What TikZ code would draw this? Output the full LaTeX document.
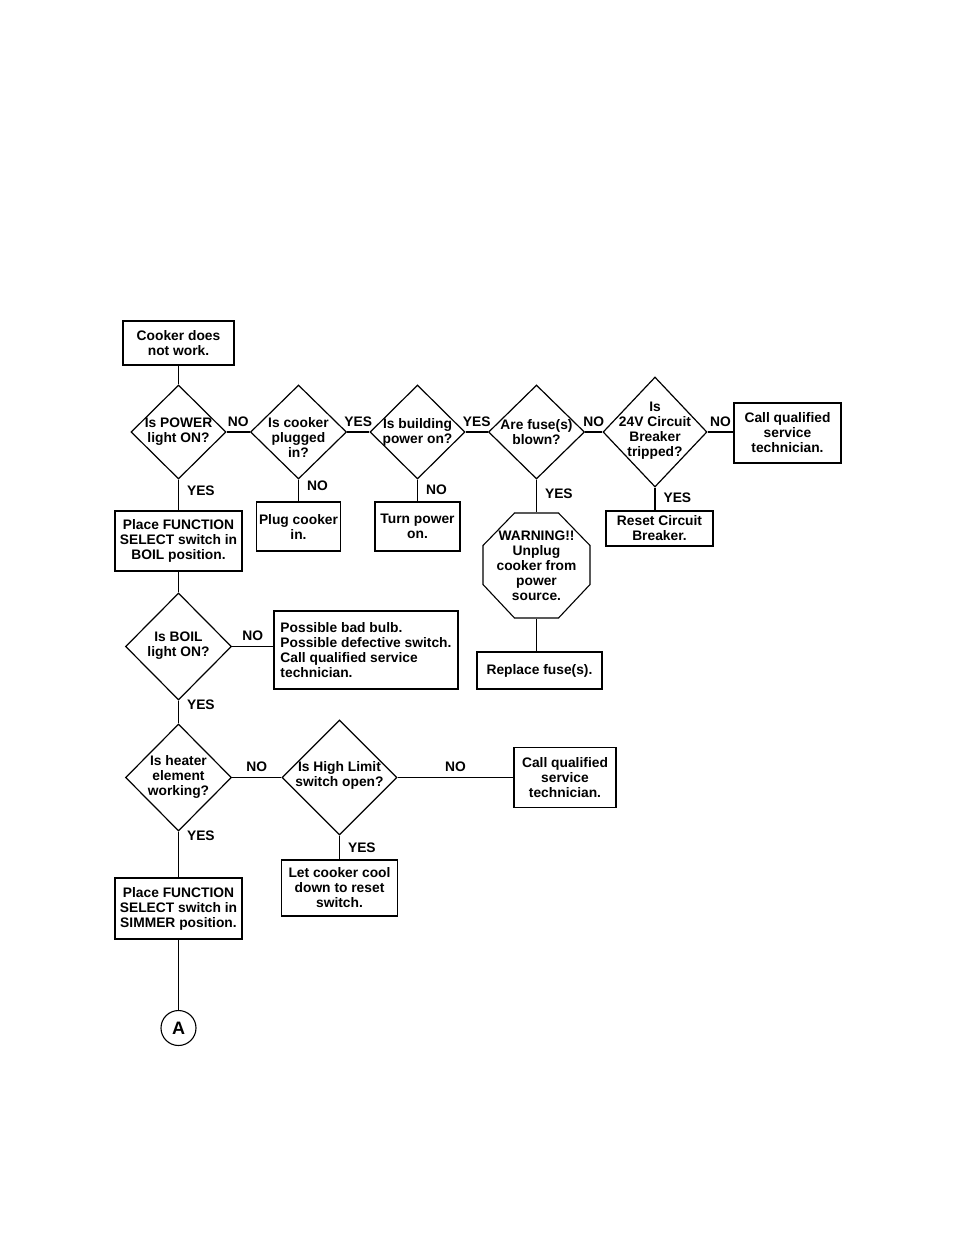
\documentclass[tikz,border=0pt]{standalone}
\usepackage{fontspec}
\setmainfont{Liberation Sans}
\usetikzlibrary{positioning, shapes.geometric, calc}

\newcommand{\chartfont}{\fontsize{13.8}{15}\selectfont\bfseries}

\begin{document}
\begin{tikzpicture}[
        x=1pt, y=-1pt,
        box/.style={rectangle, draw=black, line width=1.1pt, align=center, inner sep=2pt, font=\chartfont},
        dec/.style={diamond, draw=black, line width=1.2pt, inner sep=0pt},
        dtxt/.style={align=center, inner sep=0pt, font=\chartfont},
        lbl/.style={inner sep=3pt, font=\chartfont},
        link/.style={line width=1.1pt}
    ]
    \useasboundingbox (0,0) rectangle (954,1235);

    % top row
    \node[box, minimum width=111, minimum height=44] (start) at (178.5,343) {Cooker does\\not work.};

    \node[dec, minimum width=95, minimum height=94] (power) at (178.5,432) {};
    \node[dtxt] (powert) at (power) {Is POWER\\light ON?};
    \node[dec, minimum width=96, minimum height=94] (plugged) at (298.5,432) {};
    \node[dtxt] (pluggedt) at (298.5,437) {Is cooker\\plugged\\in?};
    \node[dec, minimum width=95, minimum height=94] (building) at (417.5,432) {};
    \node[dtxt] (buildingt) at (building) {Is building\\power on?};
    \node[dec, minimum width=96, minimum height=94] (fuse) at (536.5,432) {};
    \node[dtxt] (fuset) at (fuse) {Are fuse(s)\\blown?};
    \node[dec, minimum width=104, minimum height=110] (breaker) at (655,432) {};
    \node[dtxt] (breakert) at (655,431) {Is\\24V Circuit\\Breaker\\tripped?};
    \node[box, minimum width=107, minimum height=60] (callA) at (787.5,433) {Call qualified\\service\\technician.};

    % second row
    \node[box, minimum width=127, minimum height=60] (boil) at (178.5,541) {Place FUNCTION\\SELECT switch in\\BOIL position.};
    \node[box, minimum width=84, minimum height=49] (plugin) at (298.5,526.5) {Plug cooker\\in.};
    \node[box, minimum width=85, minimum height=49] (turnon) at (417.5,526.5) {Turn power\\on.};
    \node[box, draw=none, minimum width=107, minimum height=105] (warn) at (536.5,565.5) {WARNING!!\\Unplug\\cooker from\\power\\source.};
    \draw[link] ($(warn)+(-22,-52.5)$) -- ($(warn)+(22,-52.5)$) -- ($(warn)+(53.5,-20)$) -- ($(warn)+(53.5,19)$)
        -- ($(warn)+(22,52.5)$) -- ($(warn)+(-22,52.5)$) -- ($(warn)+(-53.5,19)$) -- ($(warn)+(-53.5,-20)$) -- cycle;
    \node[box, minimum width=125, minimum height=37] (replace) at (539.5,670.5) {Replace fuse(s).};
    \node[box, minimum width=107, minimum height=35] (reset) at (659.5,528.5) {Reset Circuit\\Breaker.};

    % boil light
    \node[dec, minimum width=106, minimum height=107] (boilon) at (178.5,646.5) {};
    \node[dtxt] (boilont) at (178.5,645.5) {Is BOIL\\light ON?};
    \node[box, align=left, minimum width=184, minimum height=78] (bulb) at (366,650) {Possible bad bulb.\\Possible defective switch.\\Call qualified service\\technician.};

    % heater
    \node[dec, minimum width=106, minimum height=107] (heater) at (178.5,777.5) {};
    \node[dtxt] (heatert) at (178.5,776.5) {Is heater\\element\\working?};
    \node[dec, minimum width=115, minimum height=115] (limit) at (339.5,777.5) {};
    \node[dtxt] (limitt) at (339.5,775.5) {Is High Limit\\switch open?};
    \node[box, minimum width=102, minimum height=60] (callB) at (565,777.5) {Call qualified\\service\\technician.};
    \node[box, minimum width=116, minimum height=56] (cool) at (339.5,888) {Let cooker cool\\down to reset\\switch.};
    \node[box, minimum width=127, minimum height=61] (simmer) at (178.5,908.5) {Place FUNCTION\\SELECT switch in\\SIMMER position.};
    \node[circle, draw=black, line width=1.1pt, minimum size=35, inner sep=0pt, font=\fontsize{18}{18}\selectfont\bfseries] (conA) at (178.5,1028) {A};

    % connectors
    \draw[link] (start.south) -- (power.north);
    \draw[link] (power.east) -- node[lbl, above=2pt] {NO} (plugged.west);
    \draw[link] (plugged.east) -- node[lbl, above=2pt] {YES} (building.west);
    \draw[link] (building.east) -- node[lbl, above=2pt] {YES} (fuse.west);
    \draw[link] (fuse.east) -- node[lbl, above=2pt] {NO} (breaker.west);
    \draw[link] (breaker.east) -- node[lbl, above=2pt] {NO} (breaker.east -| callA.west);

    \draw[link] (power.south) -- node[lbl, right=5pt, pos=0.375] {YES} (boil.north);
    \draw[link] (plugged.south) -- node[lbl, right=5pt, pos=0.26] {NO} (plugin.north);
    \draw[link] (building.south) -- node[lbl, right=5pt, pos=0.48] {NO} (turnon.north);
    \draw[link] (fuse.south) -- node[lbl, right=5pt, pos=0.42] {YES} (warn.north);
    \draw[link] (breaker.south) -- node[lbl, right=5pt, pos=0.46] {YES} (breaker.south |- reset.north);
    \draw[link] (warn.south) -- (warn.south |- replace.north);

    \draw[link] (boil.south) -- (boilon.north);
    \draw[link] (boilon.east) -- node[lbl, above=2pt] {NO} (boilon.east -| bulb.west);
    \draw[link] (boilon.south) -- node[lbl, right=5pt, pos=0.2] {YES} (heater.north);
    \draw[link] (heater.east) -- node[lbl, above=2pt] {NO} (limit.west);
    \draw[link] (limit.east) -- node[lbl, above=2pt] {NO} (callB.west);
    \draw[link] (limit.south) -- node[lbl, right=5pt, pos=0.52] {YES} (cool.north);
    \draw[link] (heater.south) -- node[lbl, right=5pt, pos=0.1] {YES} (simmer.north);
    \draw[link] (simmer.south) -- (conA.north);
\end{tikzpicture}
\end{document}
